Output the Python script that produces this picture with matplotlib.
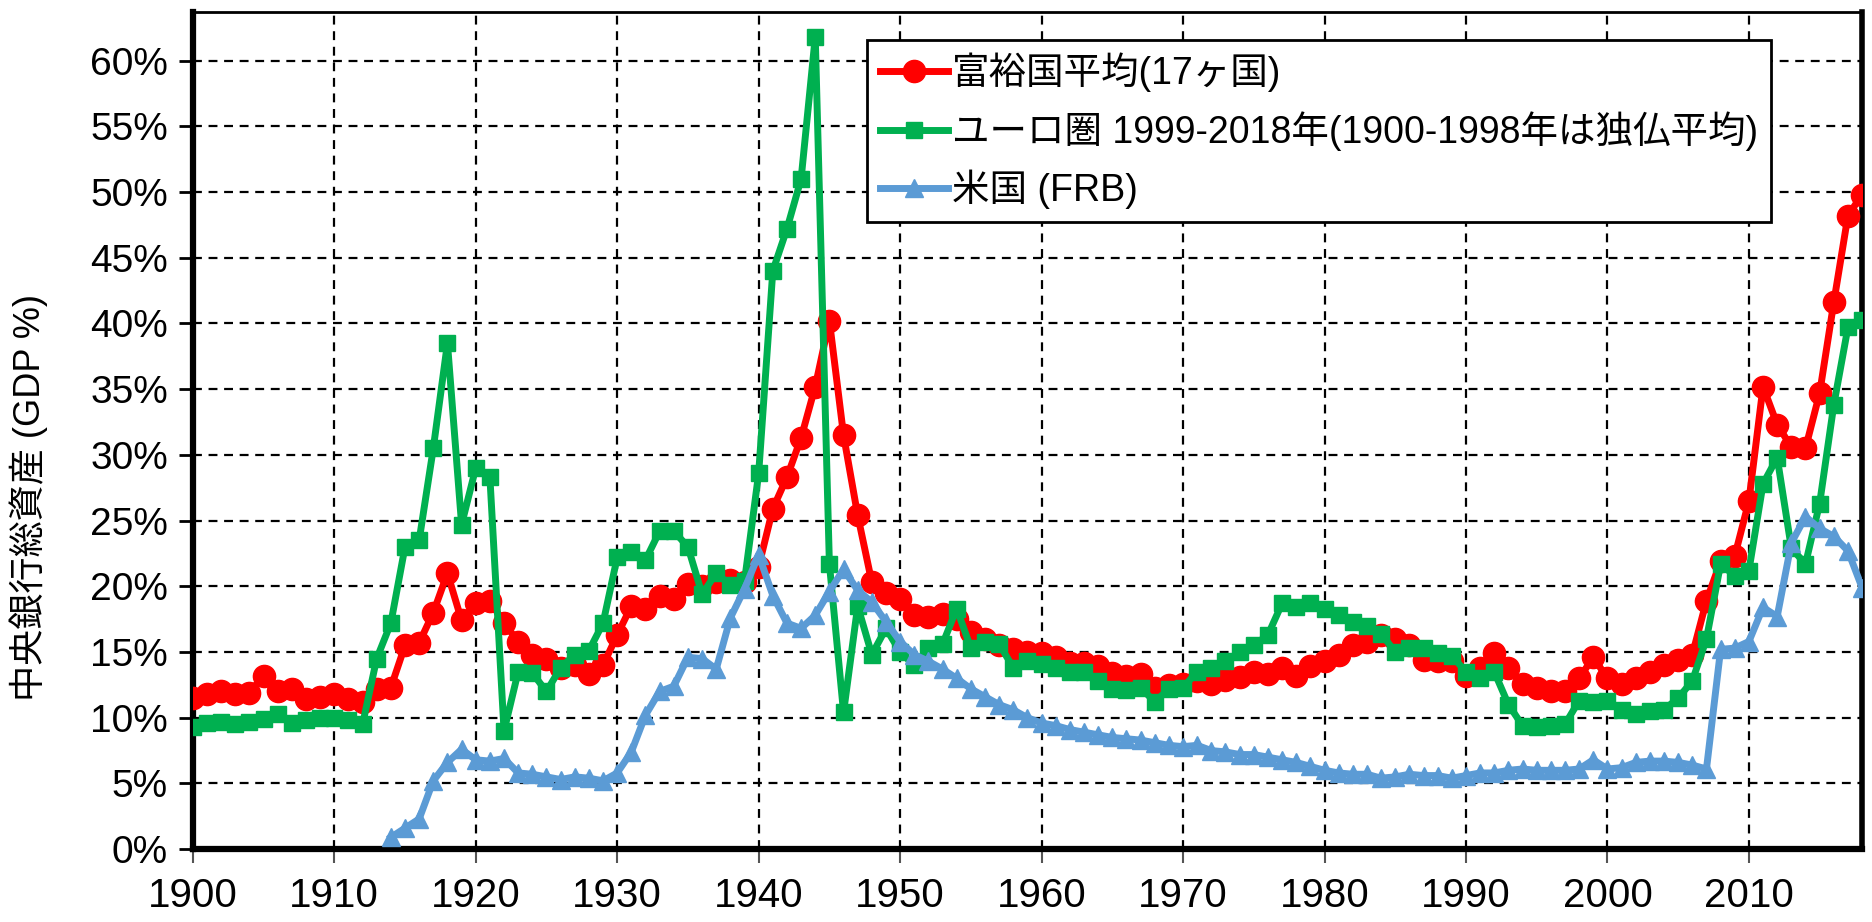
import numpy as np
import matplotlib
matplotlib.use("Agg")
import matplotlib.pyplot as plt
from matplotlib.ticker import MultipleLocator, FuncFormatter

years = list(range(1900, 2019))
rich_avg = [
    11.5, 11.8, 12.0, 11.8, 11.9, 13.2, 12.0, 12.2, 11.4, 11.6,
    11.8, 11.4, 11.2, 12.2, 12.3, 15.5, 15.7, 18.0, 21.0, 17.4,
    18.7, 18.9, 17.2, 15.8, 14.8, 14.5, 13.8, 14.0, 13.3, 14.0,
    16.3, 18.5, 18.3, 19.3, 19.0, 20.2, 20.0, 20.3, 20.5, 20.3,
    21.5, 25.9, 28.3, 31.3, 35.2, 40.2, 31.5, 25.4, 20.3, 19.5,
    19.0, 17.8, 17.7, 17.9, 17.5, 16.5, 16.0, 15.5, 15.2, 15.0,
    14.9, 14.6, 14.2, 14.2, 13.9, 13.4, 13.2, 13.3, 12.3, 12.5,
    12.6, 12.8, 12.6, 12.9, 13.1, 13.5, 13.3, 13.8, 13.2, 13.9,
    14.3, 14.8, 15.5, 15.8, 16.3, 16.0, 15.5, 14.4, 14.3, 14.3,
    13.2, 13.8, 14.9, 13.8, 12.6, 12.3, 12.0, 12.0, 13.0, 14.6,
    13.0, 12.6, 13.0, 13.5, 14.0, 14.4, 14.8, 18.9, 21.9, 22.3,
    26.5, 35.2, 32.3, 30.6, 30.5, 34.7, 41.6, 48.2, 49.8,
]
euro = [
    9.3, 9.6, 9.7, 9.5, 9.7, 9.9, 10.3, 9.6, 9.8, 10.0,
    10.0, 9.8, 9.5, 14.5, 17.2, 23.0, 23.5, 30.5, 38.5, 24.7,
    29.0, 28.3, 9.0, 13.5, 13.4, 12.0, 13.8, 14.8, 15.1, 17.2,
    22.2, 22.6, 22.0, 24.2, 24.2, 23.0, 19.4, 21.0, 20.1, 20.4,
    28.6, 44.0, 47.2, 51.0, 61.8, 21.7, 10.4, 18.5, 14.8, 16.8,
    15.0, 14.0, 15.3, 15.6, 18.3, 15.3, 15.8, 15.6, 13.8, 14.3,
    14.1, 13.8, 13.5, 13.5, 12.8, 12.2, 12.1, 12.3, 11.2, 12.2,
    12.3, 13.5, 13.8, 14.3, 15.0, 15.5, 16.3, 18.7, 18.4, 18.7,
    18.3, 17.8, 17.3, 17.0, 16.4, 15.0, 15.3, 15.3, 14.9, 14.7,
    13.5, 13.0, 13.5, 11.0, 9.4, 9.3, 9.4, 9.5, 11.3, 11.2,
    11.3, 10.6, 10.3, 10.5, 10.6, 11.5, 12.8, 16.0, 21.7, 20.8,
    21.2, 27.8, 29.8, 22.9, 21.7, 26.3, 33.8, 39.7, 40.3,
]
us_years = list(range(1914, 2019))
us_frb = [
    0.9, 1.6, 2.3, 5.2, 6.6, 7.6,
    6.8, 6.7, 6.9, 5.8, 5.7, 5.5, 5.3, 5.5, 5.4, 5.2,
    5.8, 7.4, 10.2, 12.0, 12.4, 14.6, 14.5, 13.7, 17.6, 19.8,
    22.4, 19.3, 17.2, 16.8, 17.8, 19.6, 21.3, 19.7, 18.8, 17.3,
    15.8, 14.8, 14.3, 13.7, 13.0, 12.2, 11.6, 11.0, 10.6, 10.0,
    9.6, 9.4, 9.1, 8.9, 8.7, 8.5, 8.4, 8.3, 8.1, 7.9,
    7.8, 7.9, 7.5, 7.4, 7.2, 7.2, 7.0, 6.8, 6.6, 6.3,
    6.0, 5.8, 5.7, 5.7, 5.4, 5.5, 5.7, 5.6, 5.6, 5.4,
    5.6, 5.8, 5.8, 6.0, 6.1, 6.0, 6.0, 6.0, 6.1, 6.8,
    6.1, 6.2, 6.6, 6.7, 6.7, 6.6, 6.4, 6.1, 15.2, 15.3,
    15.8, 18.4, 17.7, 23.3, 25.3, 24.4, 23.8, 22.7, 19.9,
]
labels = ["富裕国平均(17ヶ国)",
          "ユーロ圏 1999-2018年(1900-1998年は独仏平均)",
          "米国 (FRB)"]
ylabel = "中央銀行総資産 (GDP %)"

plt.rcParams['font.family'] = ['Liberation Sans', 'Noto Sans CJK JP']

fig = plt.figure(figsize=(18.72, 9.22), dpi=100)
ax = fig.add_axes([0.103, 0.079, 0.8917, 0.908])

ax.plot(years, np.array(rich_avg) / 100, color='#FF0000', lw=5, marker='o',
        ms=16, label=labels[0], zorder=3)
ax.plot(years, np.array(euro) / 100, color='#00B050', lw=5, marker='s',
        ms=11, label=labels[1], zorder=4)
ax.plot(us_years, np.array(us_frb) / 100, color='#5B9BD5', lw=5, marker='^',
        ms=13, label=labels[2], zorder=5)

ax.set_xlim(1900, 2018)
ax.set_ylim(0, 0.637)
ax.xaxis.set_major_locator(MultipleLocator(10))
ax.yaxis.set_major_locator(MultipleLocator(0.05))
ax.yaxis.set_major_formatter(FuncFormatter(lambda v, p: f"{v*100:.0f}%"))
ax.grid(True, color='black', linestyle=(0, (4, 3)), linewidth=1.6)
ax.set_axisbelow(True)
ax.tick_params(axis='y', labelsize=28, length=10, width=2, direction='out', pad=8)
ax.tick_params(axis='x', labelsize=29, length=10, width=1.5, direction='out',
               pad=10, color='#555555')
for s in ['left', 'bottom']:
    ax.spines[s].set_linewidth(4.5)
ax.spines['right'].set_linewidth(4)
ax.spines['top'].set_linewidth(2)
ax.set_ylabel(ylabel, fontsize=26)
ax.yaxis.set_label_coords(-0.087, 0.42)

leg = ax.legend(loc='upper left', bbox_to_anchor=(0.404, 0.967), fontsize=27,
                frameon=True, fancybox=False, edgecolor='black',
                handlelength=1.8, handletextpad=0.1, borderpad=0.35,
                labelspacing=0.5, borderaxespad=0)
leg.get_frame().set_linewidth(2)
leg.get_frame().set_alpha(1)
leg.set_zorder(10)

fig.savefig('out.png', dpi=100)
